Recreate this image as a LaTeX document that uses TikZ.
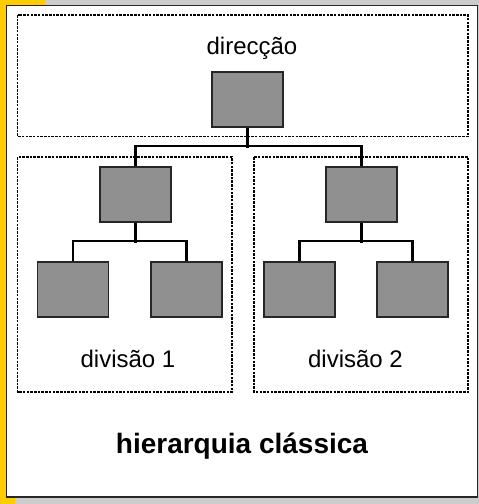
\documentclass[tikz,border=0pt]{standalone}
\usepackage{fontspec}
\setmainfont{Liberation Sans}

\definecolor{slideyellow}{HTML}{FFCC00}
\definecolor{slidegrey}{HTML}{CCCCCC}
\definecolor{boxgrey}{HTML}{909090}

\tikzset{
  unit/.style={rectangle, draw=black!85, fill=boxgrey, line width=1.3pt,
    minimum width=71pt, minimum height=55pt, inner sep=0pt},
  region/.style={draw, line width=1.5pt, dash pattern=on 2.5pt off 1.2pt},
  link/.style={draw, line width=2.2pt},
  label/.style={anchor=base, inner sep=0pt, font=\fontsize{24}{28}\selectfont}
}

\begin{document}
\begin{tikzpicture}[x=1pt, y=-1pt]
  % Slide background
  \fill[slidegrey] (0,0) rectangle (479,504);
  \fill[slideyellow] (0,0) rectangle (45,6);
  \fill[slideyellow] (0,0) rectangle (7,504);
  \fill[slideyellow] (0,496) rectangle (15,504);
  \filldraw[fill=white, draw=black!85, line width=1.6pt] (6.5,5.5) rectangle (477.5,497);

  % Dotted regions
  \draw[region] (17.5,15) rectangle (468,136.5);
  \draw[region] (17.5,157) rectangle (232,392);
  \draw[region] (254,157) rectangle (468,392);

  % Units
  \node[unit] (dir) at (247.5,99.5) {};
  \foreach \x [count=\n from 1] in {135.5,361.5} {
    \node[unit] (d\n) at (\x,194.5) {};
  }
  \node[unit] (d1a) at (73,289.5) {};
  \node[unit] (d1b) at (186.5,289.5) {};
  \node[unit] (d2a) at (299.5,289.5) {};
  \node[unit] (d2b) at (412.5,289.5) {};

  % Connectors
  \draw[link] (dir.south) -- ++(0,20);
  \draw[link] (d1.north) -- ++(0,-20) -| (d2.north);
  \foreach \n in {1,2} {
    \draw[link] (d\n.south) -- ++(0,20);
    \draw[link] (d\n a.north) -- ++(0,-20) -| (d\n b.north);
  }

  % Labels
  \node[label] (tdir) at (252,54) {direcção};
  \node[label] (td1) at (128,367) {divisão 1};
  \node[label] (td2) at (355.5,367) {divisão 2};
  \node[label, font=\fontsize{28}{32}\selectfont\bfseries] (title) at (242,453) {hierarquia clássica};
\end{tikzpicture}
\end{document}
